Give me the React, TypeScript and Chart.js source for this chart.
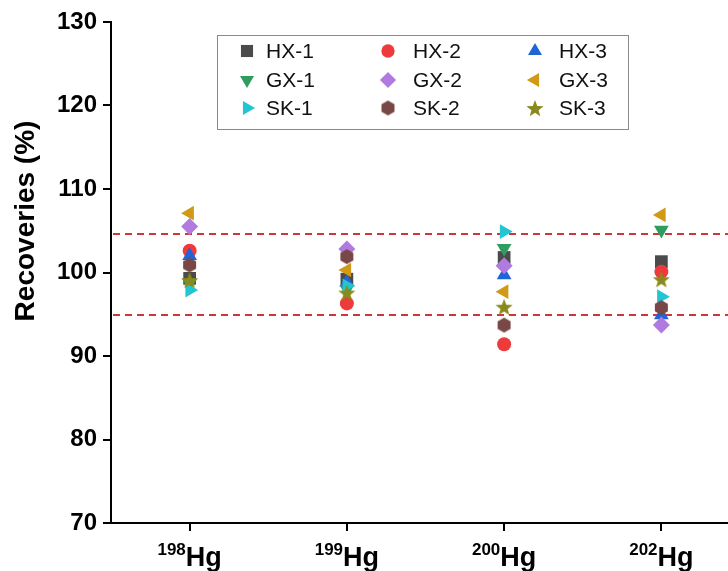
import React, { useEffect, useRef } from 'react';
import { Chart, registerables } from 'chart.js';
import { drawPoint } from 'chart.js/helpers';
Chart.register(...registerables);

// ---------- data ----------
const massNumbers = ['198', '199', '200', '202'];
const elementSymbol = 'Hg';
const seriesNames = ['HX-1', 'HX-2', 'HX-3', 'GX-1', 'GX-2', 'GX-3', 'SK-1', 'SK-2', 'SK-3'];
const hx1 = [99.3, 99.2, 101.8, 101.3];
const hx2 = [102.6, 96.3, 91.4, 100.1];
const hx3 = [102.0, 98.8, 99.7, 94.9];
const gx1 = [98.7, 98.0, 102.9, 105.1];
const gx2 = [105.5, 102.8, 100.8, 93.7];
const gx3 = [107.1, 100.3, 97.7, 106.9];
const sk1 = [97.9, 98.4, 104.9, 97.1];
const sk2 = [100.9, 101.9, 93.7, 95.8];
const sk3 = [99.1, 97.6, 95.9, 99.2];
const limitLines = [104.6, 94.9];
const yMin = 70;
const yMax = 130;
const yStep = 10;
const yTitle = 'Recoveries (%)';

const seriesValues = [hx1, hx2, hx3, gx1, gx2, gx3, sk1, sk2, sk3];
const seriesColors = ['#4b4b4b', '#ee3a3a', '#2164d6', '#2f9d5f', '#b17ae0', '#d09a16', '#22c6d2', '#7a4747', '#8a8a1c'];

const FONT = '"Liberation Sans", Arial, sans-serif';

function makeHexagon(color: string, r: number) {
  const c = document.createElement('canvas');
  const s = Math.ceil(r * 2 + 2);
  c.width = s; c.height = s;
  const ctx = c.getContext('2d')!;
  ctx.fillStyle = color;
  ctx.beginPath();
  for (let i = 0; i < 6; i++) {
    const a = (Math.PI / 3) * i - Math.PI / 2;
    const x = s / 2 + r * Math.cos(a);
    const y = s / 2 + r * Math.sin(a);
    if (i) ctx.lineTo(x, y); else ctx.moveTo(x, y);
  }
  ctx.closePath();
  ctx.fill();
  return c;
}

function makeStar(color: string, r: number) {
  const c = document.createElement('canvas');
  const s = Math.ceil(r * 2 + 2);
  c.width = s; c.height = s;
  const ctx = c.getContext('2d')!;
  ctx.fillStyle = color;
  ctx.beginPath();
  for (let i = 0; i < 10; i++) {
    const rr = i % 2 === 0 ? r : r * 0.42;
    const a = (Math.PI / 5) * i - Math.PI / 2;
    const x = s / 2 + rr * Math.cos(a);
    const y = s / 2 + 1 + rr * Math.sin(a);
    if (i) ctx.lineTo(x, y); else ctx.moveTo(x, y);
  }
  ctx.closePath();
  ctx.fill();
  return c;
}

export default function App() {
  const ref = useRef<HTMLCanvasElement | null>(null);

  useEffect(() => {
    if (!ref.current) return;
    const styles: any[] = [
      { pointStyle: 'rect', rotation: 0, radius: 9 },
      { pointStyle: 'circle', rotation: 0, radius: 7 },
      { pointStyle: 'triangle', rotation: 0, radius: 8.5 },
      { pointStyle: 'triangle', rotation: 180, radius: 8.5 },
      { pointStyle: 'rectRot', rotation: 0, radius: 8.5 },
      { pointStyle: 'triangle', rotation: 270, radius: 8.5 },
      { pointStyle: 'triangle', rotation: 90, radius: 8.5 },
      { pointStyle: makeHexagon(seriesColors[7], 7.5), rotation: 0, radius: 7.5 },
      { pointStyle: makeStar(seriesColors[8], 9), rotation: 0, radius: 9 },
    ];

    const datasets = seriesNames.map((name, i) => ({
      label: name,
      data: seriesValues[i],
      showLine: false,
      pointStyle: styles[i].pointStyle,
      pointRotation: styles[i].rotation,
      pointRadius: styles[i].radius,
      pointHoverRadius: styles[i].radius,
      pointBackgroundColor: seriesColors[i],
      pointBorderColor: seriesColors[i],
      pointBorderWidth: 0,
      order: seriesNames.length - 1 - i,
    }));

    const customPlugin = {
      id: 'custom',
      beforeDatasetsDraw(chart: any) {
        const { ctx, chartArea, scales } = chart;
        ctx.save();
        ctx.strokeStyle = '#cc383a';
        ctx.lineWidth = 2;
        ctx.setLineDash([7, 5]);
        limitLines.forEach((v) => {
          const y = scales.y.getPixelForValue(v);
          ctx.beginPath();
          ctx.moveTo(chartArea.left + 2, y);
          ctx.lineTo(chartArea.right, y);
          ctx.stroke();
        });
        ctx.restore();
      },
      afterDraw(chart: any) {
        const { ctx, scales } = chart;
        ctx.save();
        // x labels with superscript mass numbers
        ctx.fillStyle = '#000';
        ctx.textAlign = 'left';
        ctx.textBaseline = 'alphabetic';
        massNumbers.forEach((m, i) => {
          const x = scales.x.getPixelForTick(i);
          ctx.font = `bold 17px ${FONT}`;
          const sw = ctx.measureText(m).width;
          ctx.font = `bold 27px ${FONT}`;
          const hw = ctx.measureText(elementSymbol).width;
          const x0 = x - (sw + hw) / 2;
          ctx.font = `bold 17px ${FONT}`;
          ctx.fillText(m, x0, 555);
          ctx.font = `bold 27px ${FONT}`;
          ctx.fillText(elementSymbol, x0 + sw, 566);
        });
        // y title
        ctx.save();
        ctx.translate(26, 221);
        ctx.rotate(-Math.PI / 2);
        ctx.textAlign = 'center';
        ctx.textBaseline = 'middle';
        ctx.font = `bold 28px ${FONT}`;
        ctx.fillText(yTitle, 0, 0);
        ctx.restore();
        // legend
        const bx = 217, by = 35, bw = 411, bh = 94;
        ctx.strokeStyle = '#8a8a8a';
        ctx.lineWidth = 1;
        ctx.setLineDash([]);
        ctx.strokeRect(bx + 0.5, by + 0.5, bw, bh);
        const colMarker = [247, 388, 535];
        const colText = [266, 413, 559];
        const rowY = [51, 80, 108];
        chart.data.datasets.forEach((ds: any, i: number) => {
          const col = i % 3;
          const row = Math.floor(i / 3);
          const st = styles[i];
          ctx.fillStyle = seriesColors[i];
          ctx.strokeStyle = seriesColors[i];
          drawPoint(ctx, { pointStyle: st.pointStyle, rotation: st.rotation, radius: st.radius * 0.95, borderWidth: 0 } as any, colMarker[col], rowY[row]);
          ctx.fillStyle = '#111';
          ctx.font = `21px ${FONT}`;
          ctx.textAlign = 'left';
          ctx.textBaseline = 'middle';
          ctx.fillText(ds.label, colText[col], rowY[row] + 1);
        });
        ctx.restore();
      },
    };

    const chart = new Chart(ref.current, {
      type: 'line',
      data: { labels: massNumbers, datasets: datasets as any },
      options: {
        animation: false,
        responsive: false,
        layout: { padding: { left: 0, top: 22, right: 20, bottom: 0 } },
        plugins: { legend: { display: false }, tooltip: { enabled: false }, title: { display: false } },
        scales: {
          x: {
            type: 'category',
            offset: true,
            grid: { display: true, drawOnChartArea: false, drawTicks: true, tickLength: 8, color: '#000', lineWidth: 2, offset: false },
            border: { display: true, color: '#000', width: 2 },
            ticks: { color: 'rgba(0,0,0,0)', font: { size: 16 } },
            afterFit: (s: any) => { s.height = 48; },
          },
          y: {
            min: yMin,
            max: yMax,
            grid: { display: true, drawOnChartArea: false, drawTicks: true, tickLength: 8, color: '#000', lineWidth: 2 },
            border: { display: true, color: '#000', width: 2 },
            ticks: { stepSize: yStep, color: '#000', padding: 6, font: { family: FONT, size: 24, weight: 'bold' } },
            afterFit: (s: any) => { s.width = 111; },
          },
        },
      },
      plugins: [customPlugin],
    });
    return () => chart.destroy();
  }, []);

  return (
    <div style={{ position: 'fixed', left: 0, top: 0, width: 728, height: 571, overflow: 'hidden', background: '#fff' }}>
      <canvas ref={ref} width={760} height={571} style={{ width: 760, height: 571, display: 'block' }} />
    </div>
  );
}
